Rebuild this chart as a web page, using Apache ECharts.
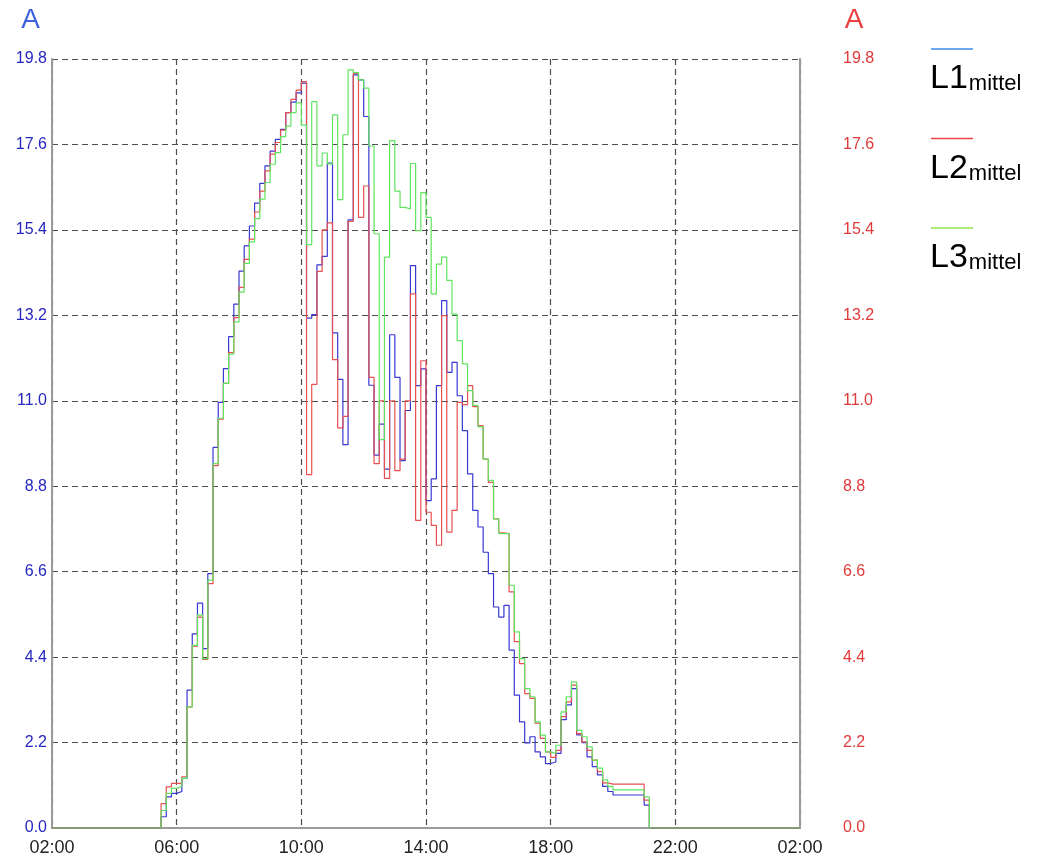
<!DOCTYPE html>
<html>
<head>
<meta charset="utf-8">
<script src="https://cdn.jsdelivr.net/npm/echarts@6/dist/echarts.min.js"></script>
<style>
html,body{margin:0;padding:0;background:#fff;}
#chart{width:1043px;height:859px;}
</style>
</head>
<body>
<div id="chart"></div>
<script>
// 10-minute slots (start time of each slot), values in A
const slotTimes = [
 '05:30','05:40','05:50',
 '06:00','06:10','06:20','06:30','06:40','06:50',
 '07:00','07:10','07:20','07:30','07:40','07:50',
 '08:00','08:10','08:20','08:30','08:40','08:50',
 '09:00','09:10','09:20','09:30','09:40','09:50',
 '10:00','10:10','10:20','10:30','10:40','10:50',
 '11:00','11:10','11:20','11:30','11:40','11:50',
 '12:00','12:10','12:20','12:30','12:40','12:50',
 '13:00','13:10','13:20','13:30','13:40','13:50',
 '14:00','14:10','14:20','14:30','14:40','14:50',
 '15:00','15:10','15:20','15:30','15:40','15:50',
 '16:00','16:10','16:20','16:30','16:40','16:50',
 '17:00','17:10','17:20','17:30','17:40','17:50',
 '18:00','18:10','18:20','18:30','18:40','18:50',
 '19:00','19:10','19:20','19:30','19:40','19:50',
 '20:00','20:10','20:20','20:30','20:40','20:50',
 '21:00'
];
const endTime = '21:10';

const L1 = [
 0.29,0.80,0.89,
 0.94,1.28,3.55,5.00,5.79,4.62,
 6.55,9.80,10.96,11.83,12.65,13.49,
 14.34,14.99,15.50,16.09,16.60,17.05,
 17.43,17.73,17.99,18.42,18.69,18.93,
 19.18,13.13,13.22,14.50,14.72,17.12,
 12.75,11.55,9.87,15.66,19.39,19.26,
 18.32,11.40,9.60,10.40,9.24,12.70,
 11.60,9.46,10.75,14.48,11.39,11.82,
 8.43,8.99,11.39,13.58,11.73,11.99,
 11.13,10.23,9.12,8.18,7.75,7.10,
 6.55,5.69,5.43,5.73,4.58,3.42,
 2.73,2.19,2.35,1.96,1.83,1.66,
 1.70,1.92,2.79,3.17,3.59,2.40,
 2.20,1.83,1.58,1.37,1.07,0.94,
 0.85,0.85,0.85,0.85,0.85,0.85,
 0.59
];
const L2 = [
 0.63,1.06,1.15,
 1.15,1.32,3.12,4.68,5.43,4.34,
 6.29,9.33,10.53,11.45,12.24,13.14,
 13.92,14.64,15.16,15.86,16.40,16.92,
 17.35,17.65,17.97,18.42,18.76,19.00,
 19.22,9.10,11.42,14.33,15.40,15.58,
 12.06,10.30,10.60,15.62,19.43,15.72,
 16.53,11.60,9.38,11.00,9.00,11.00,
 9.20,9.50,11.00,13.75,7.92,12.03,
 8.13,7.79,7.28,13.19,7.62,8.18,
 10.96,10.90,11.39,10.85,10.36,9.50,
 8.90,7.96,7.60,7.58,6.08,4.80,
 4.23,3.46,3.34,2.70,2.31,1.96,
 1.82,2.00,2.87,3.25,3.68,2.43,
 2.22,2.00,1.75,1.45,1.16,1.13,
 1.13,1.13,1.13,1.13,1.13,1.13,
 0.72
];
const L3 = [
 0.45,0.89,1.02,
 1.07,1.28,3.12,4.70,5.48,4.36,
 6.38,9.38,10.55,11.45,12.20,13.03,
 13.80,14.54,15.09,15.69,16.19,16.62,
 17.09,17.39,17.80,18.07,18.42,18.67,
 18.10,15.02,18.70,17.05,17.38,17.10,
 18.36,16.18,17.85,19.52,19.45,19.26,
 19.05,17.56,15.30,10.00,14.70,17.70,
 16.40,15.98,15.94,17.11,15.38,16.36,
 15.72,13.75,14.52,14.70,14.10,13.23,
 12.55,11.95,11.26,10.88,10.33,9.50,
 8.95,7.96,7.58,7.58,6.25,5.05,
 4.36,3.59,3.38,2.73,2.39,1.96,
 1.92,2.13,2.99,3.38,3.76,2.52,
 2.35,2.09,1.75,1.54,1.24,1.07,
 0.98,0.98,0.98,0.98,0.98,0.98,
 0.80
];

const xTickLabels = ['02:00','06:00','10:00','14:00','18:00','22:00','02:00'];
const seriesNames = ['L1', 'L2', 'L3'];
const seriesSub = 'mittel';

const FONT = '"Liberation Sans", Arial, Helvetica, sans-serif';
const COLORS = ['#3838d2', '#e65050', '#60e460'];
const LEGEND_COLORS = ['#3d8de8', '#ec4646', '#8ee84a'];

// minutes since 02:00
function toMin(t) {
  const p = t.split(':');
  let m = (+p[0]) * 60 + (+p[1]) - 120;
  if (m < 0) m += 1440;
  return m;
}
function buildSeries(vals) {
  const d = [[0, 0]];
  slotTimes.forEach((t, i) => d.push([toMin(t), vals[i]]));
  d.push([toMin(endTime), 0]);
  d.push([1440, 0]);
  return d;
}

const chart = echarts.init(document.getElementById('chart'), null, {renderer: 'canvas'});

const gridLine = {show: true, lineStyle: {color: '#4e4e4e', width: 1.2, type: [6, 4]}};

const legendGraphics = [];
seriesNames.forEach((n, i) => {
  const y0 = 49 + i * 89.5;
  legendGraphics.push({
    type: 'line', shape: {x1: 931, y1: y0, x2: 973, y2: y0},
    style: {stroke: LEGEND_COLORS[i], lineWidth: 1.5}
  });
  legendGraphics.push({
    type: 'text', x: 930, y: y0 + 47,
    style: {
      text: '{a|' + n + '}{b|' + seriesSub + '}',
      fill: '#000',
      verticalAlign: 'bottom',
      rich: {
        a: {fontSize: 34, fontFamily: FONT, fill: '#000', lineHeight: 36, verticalAlign: 'bottom'},
        b: {fontSize: 22, fontFamily: FONT, fill: '#000', lineHeight: 36, verticalAlign: 'bottom', padding: [0, 0, 1, 1]}
      }
    }
  });
});

const option = {
  animation: false,
  backgroundColor: '#ffffff',
  grid: {left: 52, right: 243, top: 59, bottom: 31, containLabel: false},
  xAxis: {
    type: 'value', min: 0, max: 1440, interval: 240,
    axisLine: {show: true, onZero: false, lineStyle: {color: '#9a9a9a', width: 2}},
    axisTick: {show: false},
    axisLabel: {
      show: true, margin: 11, color: '#222', fontSize: 18, fontFamily: FONT,
      formatter: (v) => xTickLabels[Math.round(v / 240)]
    },
    splitLine: gridLine
  },
  yAxis: [
    {
      type: 'value', position: 'left', min: 0, max: 19.8, interval: 2.2,
      axisLine: {show: true, lineStyle: {color: '#9a9a9a', width: 2}},
      axisTick: {show: false},
      axisLabel: {show: true, margin: 5, color: '#2626c0', fontSize: 16, fontFamily: FONT,
        formatter: (v) => v.toFixed(1)},
      splitLine: gridLine
    },
    {
      type: 'value', position: 'right', offset: 0, min: 0, max: 19.8, interval: 2.2,
      axisLine: {show: true, lineStyle: {color: '#9a9a9a', width: 2}},
      axisTick: {show: false}, axisLabel: {show: false}, splitLine: {show: false}
    },
    {
      type: 'value', position: 'right', offset: 35, min: 0, max: 19.8, interval: 2.2,
      axisLine: {show: false}, axisTick: {show: false},
      axisLabel: {show: true, margin: 8, color: '#e03a3a', fontSize: 16, fontFamily: FONT,
        formatter: (v) => v.toFixed(1)},
      splitLine: {show: false}
    }
  ],
  series: [L1, L2, L3].map((vals, i) => ({
    name: seriesNames[i] + seriesSub,
    type: 'line', step: 'end', yAxisIndex: 0,
    data: buildSeries(vals),
    showSymbol: false, symbol: 'none',
    lineStyle: {color: COLORS[i], width: 1.2},
    itemStyle: {color: COLORS[i]},
    z: 3 + i
  })),
  graphic: [
    {type: 'text', x: 30.5, y: 20, style: {text: 'A', fontSize: 28, fontFamily: FONT, fill: '#3d62e0', align: 'center', verticalAlign: 'middle'}},
    {type: 'text', x: 854, y: 20, style: {text: 'A', fontSize: 28, fontFamily: FONT, fill: '#ee3d3d', align: 'center', verticalAlign: 'middle'}}
  ].concat(legendGraphics)
};
chart.setOption(option);
</script>
</body>
</html>
